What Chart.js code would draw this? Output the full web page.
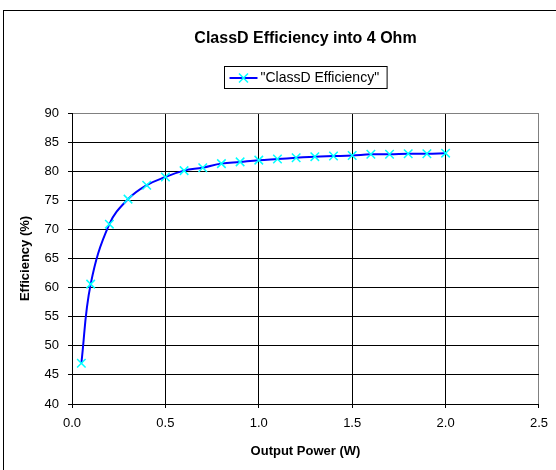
<!DOCTYPE html>
<html lang="en">
<head>
    <meta charset="UTF-8">
    <title>ClassD Efficiency</title>
    <script src="https://cdn.jsdelivr.net/npm/chart.js"></script>
    <style>
        html, body { margin: 0; padding: 0; background: #fff; }
        #wrap { width: 556px; height: 470px; }
    </style>
</head>
<body>
<div id="wrap">
    <canvas id="myChart" width="556" height="470"></canvas>
</div>
<script>
// Output power (W) and measured efficiency (%)
const powerW = [0.05, 0.1, 0.2, 0.3, 0.4, 0.5, 0.6, 0.7, 0.8, 0.9, 1.0,
                1.1, 1.2, 1.3, 1.4, 1.5, 1.6, 1.7, 1.8, 1.9, 2.0];
const efficiencyPct = [47.0, 60.6, 70.9, 75.2, 77.6, 79.0, 80.1, 80.6, 81.3, 81.6, 81.9,
                       82.1, 82.3, 82.5, 82.6, 82.7, 82.9, 82.9, 83.0, 83.0, 83.1];
const chartTitle = 'ClassD Efficiency into 4 Ohm';
const seriesName = '"ClassD Efficiency"';
const xTitle = 'Output Power (W)';
const yTitle = 'Efficiency (%)';

const FONT = "'Liberation Sans', Arial, sans-serif";
const LINE_COLOR = '#0000ff';
const MARK_COLOR = '#00ffff';

// frame, title and legend box drawn like the spreadsheet chart
const decorPlugin = {
    id: 'decor',
    beforeDraw(chart) {
        const ctx = chart.ctx;
        ctx.save();
        ctx.fillStyle = '#fff';
        ctx.fillRect(0, 0, chart.width, chart.height);
        ctx.strokeStyle = '#000';
        ctx.lineWidth = 1;
        ctx.strokeRect(3.5, 10.5, chart.width + 10, chart.height + 10);
        ctx.restore();
    },
    afterDraw(chart) {
        const ctx = chart.ctx;
        const area = chart.chartArea;
        const cx = (area.left + area.right) / 2;
        ctx.save();
        ctx.fillStyle = '#000';
        ctx.font = 'bold 16px ' + FONT;
        ctx.textAlign = 'center';
        ctx.textBaseline = 'middle';
        ctx.fillText(chartTitle, cx, 39);

        // legend
        ctx.font = '14px ' + FONT;
        const textW = ctx.measureText(seriesName).width;
        const boxW = 36 + textW + 8;
        const boxL = Math.round(cx - boxW / 2) + 0.5;
        ctx.strokeStyle = '#000';
        ctx.lineWidth = 1;
        ctx.strokeRect(boxL, 66.5, boxW, 22);
        const ly = 78;
        ctx.strokeStyle = LINE_COLOR;
        ctx.lineWidth = 2;
        ctx.beginPath();
        ctx.moveTo(boxL + 5, ly);
        ctx.lineTo(boxL + 33, ly);
        ctx.stroke();
        const mx = boxL + 19;
        ctx.strokeStyle = MARK_COLOR;
        ctx.lineWidth = 1.5;
        ctx.beginPath();
        ctx.moveTo(mx - 4.5, ly - 4.5); ctx.lineTo(mx + 4.5, ly + 4.5);
        ctx.moveTo(mx + 4.5, ly - 4.5); ctx.lineTo(mx - 4.5, ly + 4.5);
        ctx.stroke();
        ctx.fillStyle = '#000';
        ctx.textAlign = 'left';
        ctx.fillText(seriesName, boxL + 36, ly);
        ctx.restore();
    }
};

const ctx = document.getElementById('myChart').getContext('2d');
new Chart(ctx, {
    type: 'scatter',
    data: {
        datasets: [{
            label: seriesName,
            data: powerW.map((p, i) => ({ x: p, y: efficiencyPct[i] })),
            showLine: true,
            borderColor: LINE_COLOR,
            borderWidth: 2,
            tension: 0.4,
            pointStyle: 'crossRot',
            pointRadius: 6,
            pointBorderColor: MARK_COLOR,
            pointBorderWidth: 1.5,
            pointBackgroundColor: MARK_COLOR
        }]
    },
    options: {
        responsive: false,
        animation: false,
        layout: { padding: { left: 0, right: 17, top: 113, bottom: 0 } },
        plugins: {
            legend: { display: false },
            title: { display: false },
            tooltip: { enabled: false }
        },
        scales: {
            x: {
                type: 'linear',
                min: 0,
                max: 2.5,
                afterFit: s => { s.height = 66; },
                ticks: {
                    stepSize: 0.5,
                    color: '#000',
                    font: { family: FONT, size: 13 },
                    padding: 8,
                    maxRotation: 0,
                    callback: v => v.toFixed(1)
                },
                grid: {
                    color: c => (c.tick && c.tick.value === 2.5) ? '#808080' : '#000',
                    tickLength: 4,
                    tickColor: '#000'
                },
                border: { color: '#000', width: 1 },
                title: {
                    display: true,
                    text: xTitle,
                    color: '#000',
                    font: { family: FONT, size: 13, weight: 'bold' },
                    padding: { top: 0, bottom: 11 }
                }
            },
            y: {
                min: 40,
                max: 90,
                afterFit: s => { s.width = 72; },
                ticks: {
                    stepSize: 5,
                    color: '#000',
                    font: { family: FONT, size: 13 },
                    padding: 9
                },
                grid: {
                    color: c => (c.tick && c.tick.value === 90) ? '#808080' : '#000',
                    tickLength: 4,
                    tickColor: '#000'
                },
                border: { color: '#000', width: 1 },
                title: {
                    display: true,
                    text: yTitle,
                    color: '#000',
                    font: { family: FONT, size: 13, weight: 'bold' },
                    padding: { top: 18, bottom: 0 }
                }
            }
        }
    },
    plugins: [decorPlugin]
});
</script>
</body>
</html>
